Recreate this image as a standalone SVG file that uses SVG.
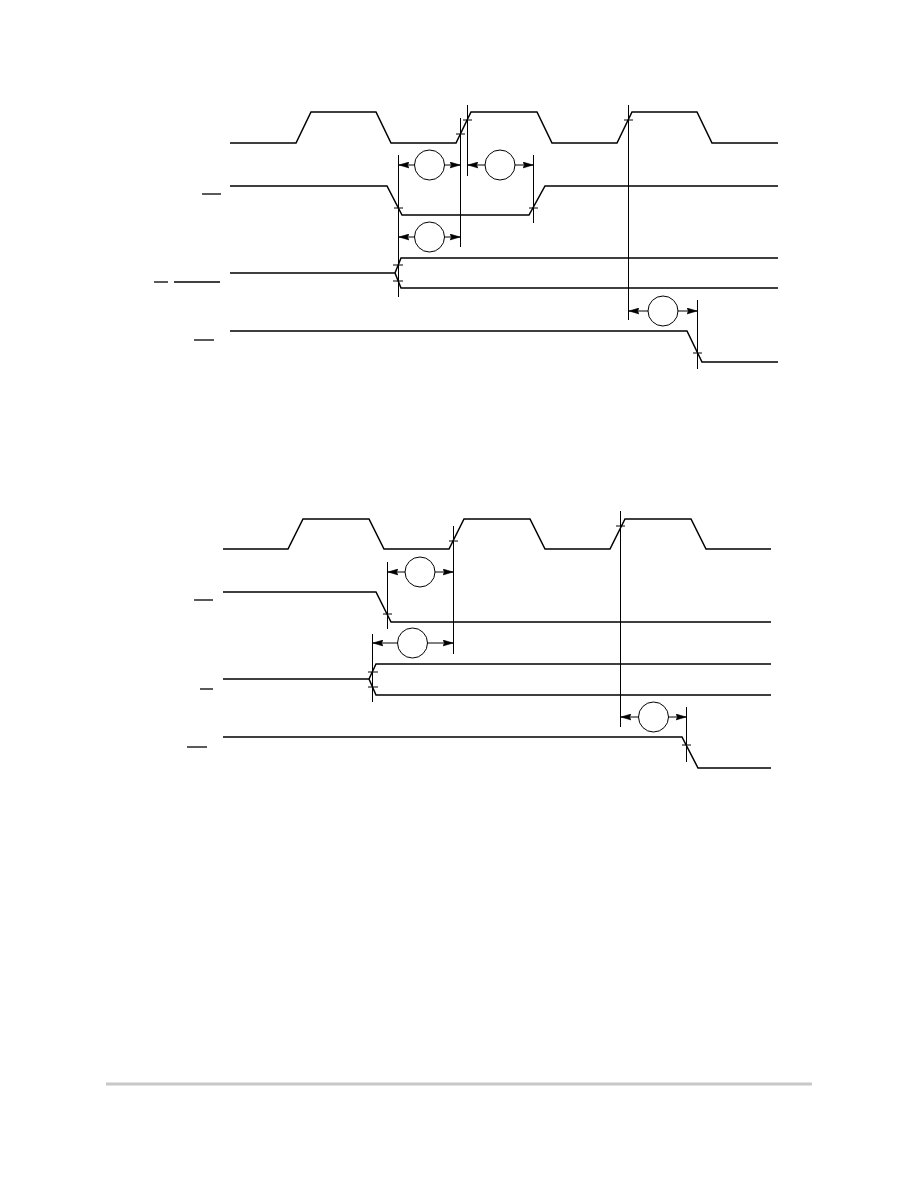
<svg xmlns="http://www.w3.org/2000/svg" width="918" height="1188" viewBox="0 0 918 1188">
<style>
.sig{fill:none;stroke:#000;stroke-width:1.5;stroke-linejoin:miter}
.ref{fill:none;stroke:#000;stroke-width:1}
.tick{fill:none;stroke:#000;stroke-width:1}
.dim{fill:none;stroke:#000;stroke-width:1;marker-start:url(#ah);marker-end:url(#ah)}
.bub{fill:#fff;stroke:#000;stroke-width:1}
.bar{fill:none;stroke:#000;stroke-width:1.3}
</style>
<defs>
<marker id="ah" markerUnits="userSpaceOnUse" viewBox="0 0 10 7" refX="10" refY="3.5" markerWidth="10" markerHeight="7" orient="auto-start-reverse">
<path d="M0,0.6 L10,3.5 L0,6.4 L1.5,3.5 Z" fill="#000" stroke="#000" stroke-width="0.6"/>
</marker>
</defs>
<rect width="918" height="1188" fill="#fff"/>

<!-- Upper diagram -->
<g id="u-clk">
<path class="sig" d="M230,143 H296 L311,112 H376 L391,143 H456 L471,112 H537 L552,143 H617 L632,112 H697 L712,143 H778"/>
</g>
<g id="u-sig2">
<line class="bar" x1="202" y1="194" x2="221" y2="194"/>
<path class="sig" d="M230,186 H387 L402,215 H529 L545,186 H778"/>
</g>
<g id="u-sig3">
<line class="bar" x1="154" y1="282" x2="168" y2="282"/>
<line class="bar" x1="174" y1="282" x2="220" y2="282"/>
<path class="sig" d="M230,273 H395 L401,258 H778 M395,273 L401,288 H778"/>
</g>
<g id="u-sig4">
<line class="bar" x1="194" y1="340" x2="214" y2="340"/>
<path class="sig" d="M230,331 H687 L702,362 H778"/>
</g>

<g id="connectors">
<!-- upper reference lines -->
<line class="ref" x1="398.5" y1="155" x2="398.5" y2="297"/>
<line class="ref" x1="460.5" y1="118" x2="460.5" y2="247"/>
<line class="ref" x1="467.5" y1="105" x2="467.5" y2="176"/>
<line class="ref" x1="533.5" y1="155" x2="533.5" y2="223"/>
<line class="ref" x1="628.5" y1="105" x2="628.5" y2="320"/>
<line class="ref" x1="697.5" y1="300" x2="697.5" y2="369"/>
<!-- upper ticks -->
<line class="tick" x1="394" y1="208" x2="403" y2="208"/>
<line class="tick" x1="393" y1="265" x2="403" y2="265"/>
<line class="tick" x1="393" y1="281" x2="403" y2="281"/>
<line class="tick" x1="456" y1="134" x2="465" y2="134"/>
<line class="tick" x1="463" y1="120" x2="472" y2="120"/>
<line class="tick" x1="529" y1="208" x2="538" y2="208"/>
<line class="tick" x1="624" y1="120" x2="633" y2="120"/>
<line class="tick" x1="693" y1="353" x2="702" y2="353"/>
<!-- upper dimensions -->
<line class="dim" x1="399" y1="165" x2="460" y2="165"/>
<circle class="bub" cx="429.5" cy="165" r="15"/>
<line class="dim" x1="468" y1="165" x2="533" y2="165"/>
<circle class="bub" cx="500" cy="165" r="15"/>
<line class="dim" x1="399" y1="237" x2="460" y2="237"/>
<circle class="bub" cx="429.5" cy="237" r="15"/>
<line class="dim" x1="629" y1="311" x2="697" y2="311"/>
<circle class="bub" cx="663" cy="311" r="15"/>

<!-- lower reference lines -->
<line class="ref" x1="387.5" y1="562" x2="387.5" y2="629"/>
<line class="ref" x1="453.5" y1="526" x2="453.5" y2="654"/>
<line class="ref" x1="372.5" y1="634" x2="372.5" y2="702"/>
<line class="ref" x1="620.5" y1="511" x2="620.5" y2="727"/>
<line class="ref" x1="686.5" y1="707" x2="686.5" y2="762"/>
<!-- lower ticks -->
<line class="tick" x1="383" y1="614" x2="392" y2="614"/>
<line class="tick" x1="449" y1="541" x2="458" y2="541"/>
<line class="tick" x1="368" y1="672" x2="378" y2="672"/>
<line class="tick" x1="368" y1="687" x2="378" y2="687"/>
<line class="tick" x1="616" y1="526" x2="625" y2="526"/>
<line class="tick" x1="682" y1="745" x2="691" y2="745"/>
<!-- lower dimensions -->
<line class="dim" x1="388" y1="572" x2="453" y2="572"/>
<circle class="bub" cx="420" cy="572" r="15"/>
<line class="dim" x1="373" y1="643" x2="453" y2="643"/>
<circle class="bub" cx="412.5" cy="643" r="15"/>
<line class="dim" x1="621" y1="717" x2="686" y2="717"/>
<circle class="bub" cx="653.5" cy="717" r="15"/>
</g>

<!-- Lower diagram -->
<g id="l-clk">
<path class="sig" d="M223,549 H288 L303,519 H369 L384,549 H449 L464,519 H530 L545,549 H610 L625,519 H691 L706,549 H771"/>
</g>
<g id="l-sig2">
<line class="bar" x1="194" y1="600" x2="213" y2="600"/>
<path class="sig" d="M223,592 H376 L391,622 H771"/>
</g>
<g id="l-sig3">
<line class="bar" x1="200" y1="689" x2="213" y2="689"/>
<path class="sig" d="M223,679 H369 L376,664 H771 M369,679 L376,695 H771"/>
</g>
<g id="l-sig4">
<line class="bar" x1="187" y1="747" x2="207" y2="747"/>
<path class="sig" d="M223,737 H682 L698,768 H771"/>
</g>

<g id="footer">
<line x1="106" y1="1084" x2="812" y2="1084" stroke="#c8c8c8" stroke-width="3"/>
</g>
</svg>
